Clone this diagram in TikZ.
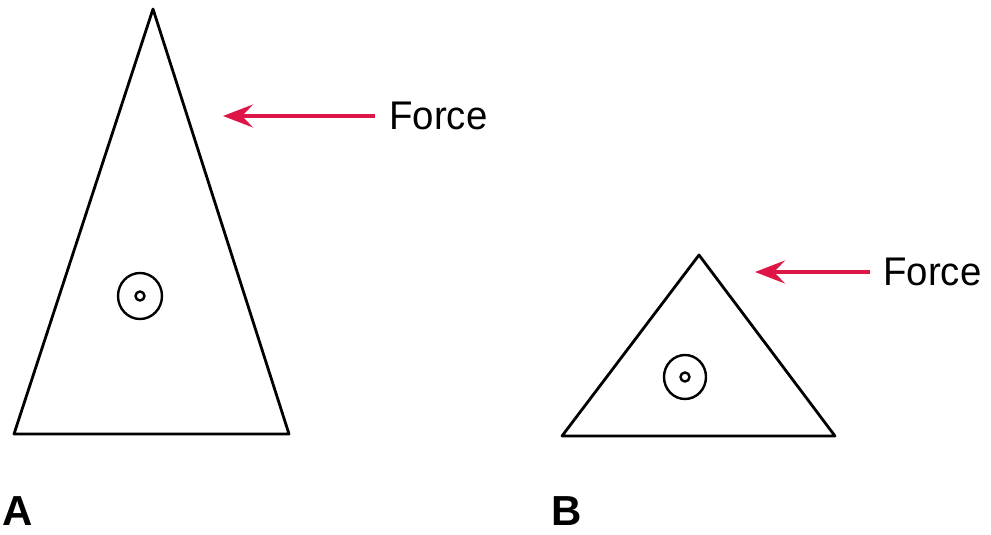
\documentclass[tikz,border=0pt]{standalone}
\usepackage{fontspec}
\usepackage{graphicx}
\setmainfont{Liberation Sans}
\usetikzlibrary{arrows.meta}
\definecolor{forcered}{RGB}{222,22,72}
\begin{document}
\begin{tikzpicture}[x=1pt,y=-1pt,
  shape line/.style={line width=2.8pt, line join=round},
  ring/.style={line width=2.4pt},
  forcearrow/.style={forcered, line width=3.4pt, -{Stealth[length=30pt,width=23pt,inset=11pt]}},
  forcelabel/.style={font=\fontsize{40}{44}\selectfont, anchor=west, inner sep=0pt},
  letter/.style={font=\fontsize{42}{46}\selectfont\bfseries, inner sep=0pt}]
\useasboundingbox (0,0) rectangle (991,535);
% Triangle A
\coordinate (a1) at (153,9);
\coordinate (a2) at (14,434);
\coordinate (a3) at (289,434);
\draw[shape line] (a1) -- (a2) -- (a3) -- cycle;
\coordinate (ac) at (140,296);
\draw[ring] (ac) circle[x radius=22pt, y radius=23pt];
\draw[ring] (ac) circle[radius=4.5pt];
% Force A
\node[forcelabel] (fa) at (389,116) {\scalebox{0.96}[1]{Force}};
\coordinate (fatip) at (223,116);
\draw[forcearrow] ([xshift=-14pt]fa.west) -- (fatip);
% Triangle B
\coordinate (b1) at (699,255);
\coordinate (b2) at (562,436);
\coordinate (b3) at (835,436);
\draw[shape line] (b1) -- (b2) -- (b3) -- cycle;
\coordinate (bc) at (685,377);
\draw[ring] (bc) circle[x radius=21pt, y radius=22pt];
\draw[ring] (bc) circle[radius=4.5pt];
% Force B
\node[forcelabel] (fb) at (883,272) {\scalebox{0.96}[1]{Force}};
\coordinate (fbtip) at (755,272);
\draw[forcearrow] ([xshift=-13pt]fb.west) -- (fbtip);
% Labels
\node[letter, anchor=base west] (la) at (2,525) {A};
\node[letter, anchor=base west] (lb) at (551,525) {B};
\end{tikzpicture}
\end{document}
